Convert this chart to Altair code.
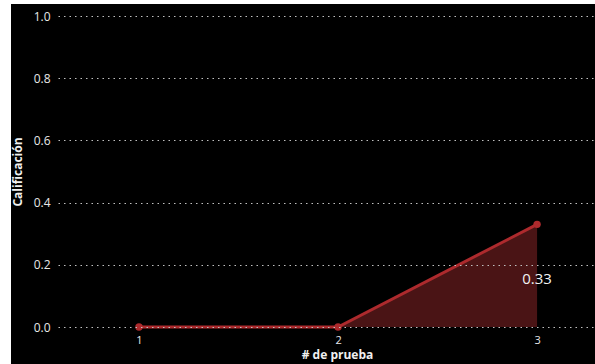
import altair as alt
import pandas as pd

# Scores per attempt
pruebas = [1, 2, 3]
calificacion = [0.0, 0.0, 0.33]
etiquetas = ["", "", "0.33"]

df = pd.DataFrame({"prueba": pruebas, "calificacion": calificacion, "etiqueta": etiquetas})

LINE = "#ad2a2d"
FILL = "#4a1415"
FONT = "Open Sans"

x_enc = alt.X(
    "prueba:Q",
    scale=alt.Scale(domain=[0.593, 3.291], nice=False, zero=False),
    axis=alt.Axis(
        values=pruebas,
        format="d",
        title="# de prueba",
        grid=False,
        domain=False,
        ticks=False,
        labelPadding=7,
        labelFontSize=11,
        labelColor="#e8e8e8",
        labelFont=FONT,
        titleFont=FONT,
        titleFontSize=12,
        titleFontWeight="bold",
        titleColor="#f0f0f0",
        titleX=279,
        titleY=22,
        titleAnchor="start",
        titleAlign="center",
        zindex=1,
    ),
)
y_enc = alt.Y(
    "calificacion:Q",
    scale=alt.Scale(domain=[0, 1], nice=False),
    axis=alt.Axis(
        values=[0, 0.2, 0.4, 0.6, 0.8, 1.0],
        format=".1f",
        title="Calificación",
        grid=True,
        gridColor="#c0c0c0",
        gridDash=[1.5, 4],
        gridWidth=1,
        domain=False,
        ticks=False,
        labelPadding=8,
        labelFontSize=12,
        labelColor="#e8e8e8",
        labelFont=FONT,
        titleFont=FONT,
        titleFontSize=12,
        titleFontWeight="bold",
        titleColor="#f0f0f0",
        titleX=-34,
        zindex=1,
    ),
)

# Dark panel behind the whole figure
panel = alt.Chart(pd.DataFrame({"k": [0]})).mark_rect(color="#000000").encode(
    x=alt.value(-47), x2=alt.value(537), y=alt.value(-12), y2=alt.value(348)
)

base = alt.Chart(df).encode(x=x_enc, y=y_enc)

area = base.mark_area(color=FILL, opacity=1)
line = base.mark_line(color=LINE, strokeWidth=3)
points = base.mark_circle(color=LINE, size=55, opacity=1)
labels = base.mark_text(
    color="#f2f2f2", fontSize=15, font=FONT, dy=55, align="center"
).encode(text="etiqueta:N")

chart = (
    alt.layer(panel, area, line, points, labels)
    .properties(
        width=537,
        height=311,
        background="#ffffff",
        padding={"left": 58, "top": 16, "right": 0, "bottom": 37},
        autosize=alt.AutoSizeParams(type="none"),
    )
    .configure_view(stroke=None)
)

chart.save("out.html", embed_options={"renderer": "svg", "actions": False})
